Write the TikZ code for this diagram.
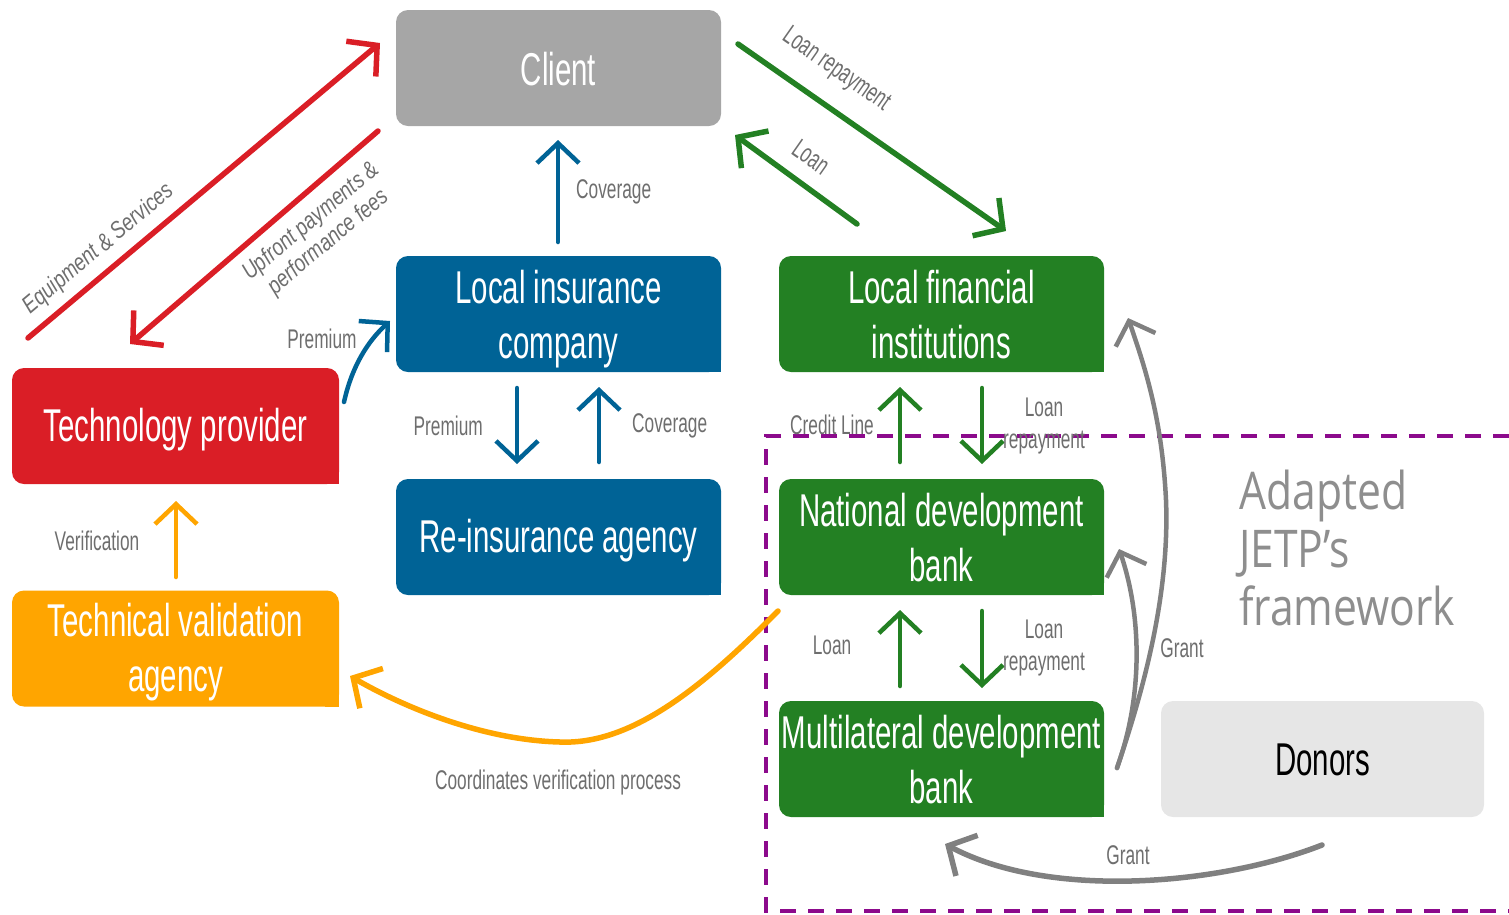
\documentclass[tikz,border=0pt]{standalone}
\usepackage{fontspec}
\usetikzlibrary{arrows.meta}
\newfontfamily\cond{Liberation Sans}[FakeStretch=0.64]
\newfontfamily\lbl{Liberation Sans}[FakeStretch=0.8]
\newfontfamily\lite{Open Sans}[FakeStretch=0.82]
\definecolor{cgray}{HTML}{A6A6A6}
\definecolor{cblue}{HTML}{006396}
\definecolor{cred}{HTML}{DA1E26}
\definecolor{corange}{HTML}{FFA500}
\definecolor{cgreen}{HTML}{238023}
\definecolor{cdonor}{HTML}{E6E6E6}
\definecolor{agray}{HTML}{808080}
\definecolor{tgray}{HTML}{6E6E6E}
\definecolor{fgray}{HTML}{8E8E8E}
\definecolor{cpurple}{HTML}{8C0A8C}
\begin{document}
\begin{tikzpicture}[x=1pt,y=-1pt,
  box/.style={minimum width=325pt,minimum height=116pt,rounded corners=12pt,inner sep=0pt},
  boxtext/.style={align=center,text=white,inner sep=0pt,
    font=\cond\fontsize{46}{55}\selectfont},
  flow/.style={line width=5.5pt,line cap=round,
    -{Straight Barb[length=21pt,width=46pt,line width=5.5pt]}},
  thin flow/.style={flow,line width=4.5pt,
    -{Straight Barb[length=20pt,width=42pt,line width=4.5pt]}},
  lab/.style={text=tgray,font=\cond\fontsize{27}{32}\selectfont,inner sep=0pt,align=center},
  rlab/.style={text=tgray,font=\lbl\itshape\fontsize{24}{27}\selectfont,inner sep=0pt,align=center}]
\useasboundingbox (0,0) rectangle (1509,914);

% boxes
\node[box,fill=cgray]   (client) at (558.5,68)  {};
\node[box,fill=cblue]   (lic)    at (558.5,314) {};
\node[box,fill=cblue]   (ria)    at (558.5,537) {};
\node[box,fill=cred,minimum width=327pt]    (tp)  at (175.5,426) {};
\node[box,fill=corange,minimum width=327pt] (tva) at (175.5,648.5) {};
\node[box,fill=cgreen]  (lfi)    at (941.5,314) {};
\node[box,fill=cgreen]  (ndb)    at (941.5,537) {};
\node[box,fill=cgreen]  (mdb)    at (941.5,759) {};
\node[box,fill=cdonor,minimum width=323pt] (don) at (1322.5,759) {};

% square lower right corners
\foreach \n/\c in {lic/cblue,ria/cblue,tp/cred,tva/corange,lfi/cgreen,ndb/cgreen,mdb/cgreen}
  \fill[\c] (\n.south east) rectangle ++(-14,-14);

% box titles
\node[boxtext] (clientt) at ([yshift=-1pt]client.center) {Client};
\node[boxtext] (lict)    at ([yshift=-5pt]lic.center) {Local insurance\\company};
\node[boxtext] (riat)    at ([yshift=-4pt]ria.center) {Re-insurance agency};
\node[boxtext] (tpt)     at ([yshift=-4pt]tp.center)  {Technology provider};
\node[boxtext] (tvat)    at ([yshift=-4pt]tva.center) {Technical validation\\agency};
\node[boxtext] (lfit)    at ([yshift=-1pt]lfi.center) {Local financial\\institutions};
\node[boxtext] (ndbt)    at ([yshift=-1pt]ndb.center) {National development\\bank};
\node[boxtext] (mdbt)    at ([yshift=-1pt]mdb.center) {Multilateral development\\bank};
\node[boxtext,text=black] (dont) at ([yshift=-1pt]don.center) {Donors};

% framework boundary
\draw[cpurple,line width=4pt,dash pattern=on 16pt off 12pt]
  (1509,436) -- (766,436) -- (766,911) -- (1509,911);
\node[text=fgray,font=\lite\fontsize{52}{58}\selectfont,align=left,anchor=north west,inner sep=0pt]
  (fw) at (1239,470) {Adapted\\JETP’s\\framework};

% endpoints
\coordinate (r1s) at (28,338);   \coordinate (r1e) at (380,43);
\coordinate (r2s) at (378,131);  \coordinate (r2e) at (130,344);
\coordinate (g1s) at (738,44);   \coordinate (g1e) at (1006,231);
\coordinate (g2s) at (857,224);  \coordinate (g2e) at (735,135);
\coordinate (b1s) at (558,242);  \coordinate (b1e) at (558,140);
\coordinate (b2s) at (344,402);  \coordinate (b2e) at (390,321);
\coordinate (b3s) at (517,388);  \coordinate (b3e) at (517,464);
\coordinate (b4s) at (599,462);  \coordinate (b4e) at (599,387);
\coordinate (o1s) at (176,577);  \coordinate (o1e) at (176,501);
\coordinate (o2s) at (778,611);  \coordinate (o2e) at (350,676);
\coordinate (v1s) at (900,462);  \coordinate (v1e) at (900,387);
\coordinate (v2s) at (982,388);  \coordinate (v2e) at (982,464);
\coordinate (v3s) at (900,686);  \coordinate (v3e) at (900,610);
\coordinate (v4s) at (982,611);  \coordinate (v4e) at (982,688);
\coordinate (gs)  at (1117,768);
\coordinate (ge1) at (1128,318); \coordinate (ge2) at (1119,549);
\coordinate (gbs) at (1322,845); \coordinate (gbe) at (945,844);

% red flows
\draw[flow,cred] (r1s) -- (r1e);
\draw[flow,cred] (r2s) -- (r2e);
\node[rlab,rotate=40] (lr1) at (99,249) {Equipment \& Services};
\node[rlab,rotate=40] (lr2) at (320,232) {Upfront payments \&\\performance fees};

% green flows to the client
\draw[flow,cgreen] (g1s) -- (g1e);
\draw[flow,cgreen] (g2s) -- (g2e);
\node[lab,rotate=-35] (lg1) at (836,70) {Loan repayment};
\node[lab,rotate=-35] (lg2) at (811,157) {Loan};

% insurance flows
\draw[thin flow,cblue] (b1s) -- (b1e);
\node[lab,anchor=west] (lb1) at (576,192) {Coverage};
\draw[thin flow,cblue] (b2s) .. controls (352,366) and (368,341) .. (b2e);
\node[lab] (lb2) at (322,339) {Premium};
\draw[thin flow,cblue] (b3s) -- (b3e);
\node[lab,anchor=east] (lb3) at (483,426) {Premium};
\draw[thin flow,cblue] (b4s) -- (b4e);
\node[lab,anchor=west] (lb4) at (632,426) {Coverage};

% verification flows
\draw[thin flow,corange] (o1s) -- (o1e);
\node[lab] (lo1) at (97,541) {Verification};
\draw[flow,corange] (o2s) .. controls (700,690) and (630,745) .. (560,742)
  .. controls (480,740) and (400,705) .. (o2e);
\node[lab] (lo2) at (558,783) {Coordinates verification process};

% development finance flows
\draw[thin flow,cgreen] (v1s) -- (v1e);
\node[lab] (lv1) at (832,425) {Credit Line};
\draw[thin flow,cgreen] (v2s) -- (v2e);
\node[lab] (lv2) at (1044,426) {Loan\\repayment};
\draw[thin flow,cgreen] (v3s) -- (v3e);
\node[lab] (lv3) at (832,645) {Loan};
\draw[thin flow,cgreen] (v4s) -- (v4e);
\node[lab] (lv4) at (1044,648) {Loan\\repayment};

% grants
\draw[thin flow,agray] (gs) .. controls (1140,700) and (1170,600) .. (1166,500)
  .. controls (1162,420) and (1146,370) .. (ge1);
\draw[thin flow,agray] (gs) .. controls (1145,690) and (1140,610) .. (ge2);
\node[lab] (lgr1) at (1182,648) {Grant};
\draw[flow,agray] (gbs) .. controls (1220,885) and (1050,900) .. (gbe);
\node[lab] (lgr2) at (1128,855) {Grant};
\end{tikzpicture}
\end{document}
